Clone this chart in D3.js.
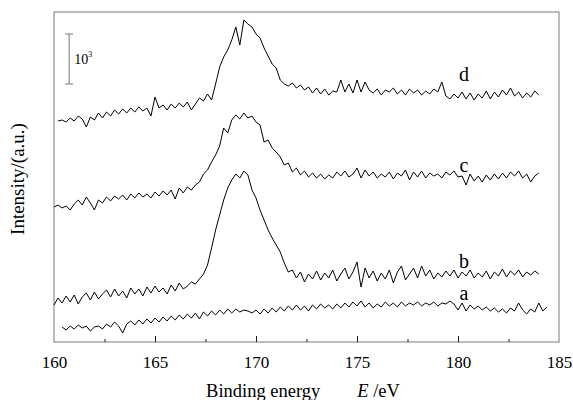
<!DOCTYPE html>
<html>
<head>
<meta charset="utf-8">
<script src="https://cdn.jsdelivr.net/npm/d3@7/dist/d3.min.js"></script>
<style>
  body { margin: 0; background: #fff; }
</style>
</head>
<body>
<div id="chart"></div>
<script>
const step = 0.2;
const xTicks = [160, 165, 170, 175, 180, 185];
const xMinorTicks = [162.5, 167.5, 172.5, 177.5, 182.5];

const aStart = 160.4;
const aValues = [300,240,320,260,340,280,320,220,300,320,260,360,300,400,320,180,360,420,340,440,
  360,460,380,480,400,500,420,520,440,540,460,560,480,580,460,600,520,620,540,640,
  560,660,580,660,600,640,620,580,640,560,660,580,680,600,700,620,720,640,740,640,
  720,620,740,660,760,680,740,660,760,680,780,700,800,720,820,700,780,680,760,700,
  800,720,780,700,800,720,780,740,800,720,780,740,800,720,780,760,820,760,640,780,
  620,740,660,720,640,700,620,680,600,660,580,680,620,780,640,560,660,600,780,620,700];

const bStart = 160.0;
const bValues = [740,880,780,920,800,940,760,900,980,840,1000,860,960,1040,900,1060,920,1020,880,1080,
  960,1060,920,1100,980,1120,1000,1080,960,1140,1020,1180,1060,1120,1200,1160,1260,1360,1540,1880,
  2240,2540,2840,3080,3240,3360,3280,3420,3340,3040,2880,2640,2440,2240,2080,1940,1800,1580,1400,1440,
  1280,1400,1200,1360,1260,1420,1240,1380,1280,1440,1220,1360,1480,1260,1400,1600,1100,1480,1280,1420,
  1220,1380,1260,1440,1180,1400,1520,1240,1360,1480,1280,1520,1320,1440,1260,1380,1300,1420,1320,1440,
  1280,1400,1320,1440,1280,1380,1300,1420,1260,1400,1320,1460,1300,1420,1340,1440,1300,1400,1340,1420,1360];

const cStart = 160.0;
const cValues = [2700,2740,2680,2720,2640,2760,2840,2740,2900,2780,2640,2840,2780,2900,2820,2920,2860,2940,2840,2960,
  2880,2980,2900,2960,2880,3000,2920,3020,2940,3040,2860,3080,2980,3100,3040,3140,3200,3360,3440,3600,
  3740,3920,4280,4180,4440,4540,4460,4580,4480,4520,4400,4340,4000,4040,3880,3800,3700,3540,3580,3400,
  3480,3340,3420,3300,3380,3280,3360,3260,3340,3280,3400,3320,3420,3300,3360,3480,3280,3440,3320,3400,
  3280,3360,3300,3400,3260,3380,3320,3440,3240,3400,3300,3420,3280,3380,3320,3360,3280,3400,3340,3420,
  3300,3320,3140,3360,3220,3320,3200,3340,3240,3360,3260,3380,3280,3400,3320,3420,3280,3360,3200,3320,3380];

const dStart = 160.2;
const dValues = [4420,4440,4400,4480,4420,4520,4460,4300,4500,4440,4580,4480,4600,4520,4640,4560,4660,4580,4680,4600,
  4700,4620,4680,4520,4900,4680,4740,4640,4760,4680,4780,4700,4800,4640,4760,4880,4820,4960,4840,5160,
  5500,5700,5840,6040,6300,5940,6440,6360,6300,6160,6080,5880,5720,5560,5480,5240,5160,5120,5180,5080,
  5140,5040,5100,4980,5080,4960,5060,4940,5020,5000,5240,5000,5160,4980,5240,5000,5200,5040,4980,5060,
  4940,5040,5000,5080,4960,5040,4940,5060,4980,5040,4940,5020,4960,5060,5000,5200,4920,4860,4960,4880,
  5000,4860,4980,4840,4960,4880,5020,4860,5000,4900,5040,4940,5080,4920,5000,4880,4980,4900,5020,4940];

const series = [
  { name: "a", start: aStart, values: aValues, label: [180.3, 840] },
  { name: "b", start: bStart, values: bValues, label: [180.3, 1480] },
  { name: "c", start: cStart, values: cValues, label: [180.3, 3400] },
  { name: "d", start: dStart, values: dValues, label: [180.3, 5220] }
];

const serif = "'Liberation Serif'";
const width = 573, height = 400;
const margin = { top: 12, right: 14, bottom: 58, left: 54 };

const svg = d3.select("#chart").append("svg")
  .attr("width", width)
  .attr("height", height);

const x = d3.scaleLinear()
  .domain([160, 185])
  .range([margin.left, width - margin.right]);

const y = d3.scaleLinear()
  .domain([0, 6600])
  .range([height - margin.bottom, margin.top]);

// frame
svg.append("rect")
  .attr("x", x(160))
  .attr("y", y(6600))
  .attr("width", x(185) - x(160))
  .attr("height", y(0) - y(6600))
  .attr("fill", "none")
  .attr("stroke", "#7a7a7a")
  .attr("stroke-width", 1);

// bottom axis, ticks pointing in
const xAxis = svg.append("g")
  .attr("transform", "translate(0," + y(0) + ")")
  .call(d3.axisBottom(x).tickValues(xTicks).tickSize(-6).tickPadding(14).tickFormat(d3.format("d")));
xAxis.select(".domain").remove();
xAxis.selectAll(".tick line").attr("stroke", "#222");
xAxis.selectAll(".tick text")
  .attr("font-size", 17)
  .style("font-family", serif)
  .attr("fill", "#000");
xAxis.selectAll(".tick")
  .filter(d => d === 160 || d === 185)
  .select("line").remove();

svg.append("g")
  .attr("transform", "translate(0," + y(0) + ")")
  .call(d3.axisBottom(x).tickValues(xMinorTicks).tickSize(-3).tickFormat(""))
  .call(g => g.select(".domain").remove())
  .selectAll(".tick line").attr("stroke", "#222");

// spectra
const line = d3.line()
  .x(d => x(d[0]))
  .y(d => y(d[1]));

svg.append("g")
  .selectAll("path")
  .data(series)
  .enter()
  .append("path")
  .attr("d", s => line(s.values.map((v, i) => [s.start + i * step, v])))
  .attr("fill", "none")
  .attr("stroke", "#000")
  .attr("stroke-width", 1)
  .attr("stroke-linejoin", "miter");

svg.append("g")
  .selectAll("text")
  .data(series)
  .enter()
  .append("text")
  .attr("x", s => x(s.label[0]))
  .attr("y", s => y(s.label[1]))
  .attr("text-anchor", "middle")
  .attr("font-size", 20)
  .style("font-family", serif)
  .text(s => s.name);

// 10^3 counts scale bar
const barX = x(160.75), barTop = 6160;
const bar = svg.append("g").attr("stroke", "#777").attr("stroke-width", 1);
bar.append("line").attr("x1", barX).attr("x2", barX).attr("y1", y(barTop)).attr("y2", y(barTop - 1000));
bar.append("line").attr("x1", barX - 4).attr("x2", barX + 4).attr("y1", y(barTop)).attr("y2", y(barTop));
bar.append("line").attr("x1", barX - 4).attr("x2", barX + 4).attr("y1", y(barTop - 1000)).attr("y2", y(barTop - 1000));

const barLabel = svg.append("text")
  .attr("x", barX + 5)
  .attr("y", y(barTop - 500) + 5)
  .attr("font-size", 14)
  .style("font-family", serif);
barLabel.append("tspan").text("10");
barLabel.append("tspan").attr("dy", -7).attr("font-size", 8).text("3");

// axis titles
const xTitle = svg.append("text")
  .attr("x", 303)
  .attr("y", 397)
  .attr("text-anchor", "middle")
  .attr("font-size", 18.5)
  .style("font-family", serif);
xTitle.append("tspan").text("Binding energy\u2003\u2003");
xTitle.append("tspan").attr("font-style", "italic").text("E");
xTitle.append("tspan").text(" /eV");

svg.append("text")
  .attr("transform", "translate(24," + ((y(0) + y(6600)) / 2 + 2) + ") rotate(-90)")
  .attr("text-anchor", "middle")
  .attr("font-size", 19)
  .style("font-family", serif)
  .text("Intensity/(a.u.)");
</script>
</body>
</html>
